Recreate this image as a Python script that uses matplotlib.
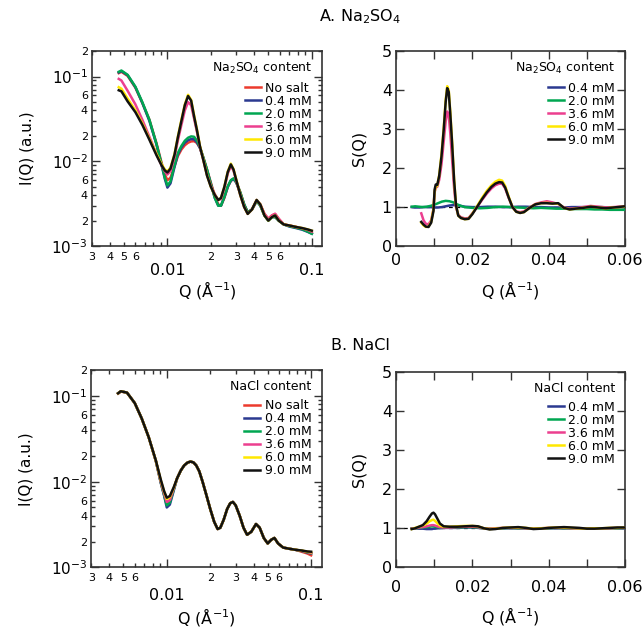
import matplotlib
matplotlib.use('Agg')
import matplotlib.pyplot as plt
import numpy as np
from matplotlib.ticker import FixedLocator, FuncFormatter, MultipleLocator

# ---- data ----
labels = ['No salt', '0.4 mM', '2.0 mM', '3.6 mM', '6.0 mM', '9.0 mM']
colors = ['#ec3a2d', '#2b3990', '#00a651', '#ec3f8f', '#ffe800', '#111111']

# I(Q) grid (both salts)
q_i = [0.0046, 0.0048, 0.0053, 0.0060, 0.0067, 0.0075, 0.0084, 0.0091, 0.0096, 0.0100,
       0.0105, 0.0112, 0.0118, 0.0125, 0.0132, 0.0139, 0.0146, 0.0153, 0.0160, 0.0168,
       0.0177, 0.0188, 0.0200, 0.0213, 0.0225, 0.0235, 0.0248, 0.0262, 0.0275, 0.0287,
       0.0300, 0.0320, 0.0340, 0.0360, 0.0385, 0.0415, 0.0440, 0.0470, 0.0500, 0.0530,
       0.0557, 0.0590, 0.0640, 0.0700, 0.0780, 0.0860, 0.0940, 0.1000]

# A. Na2SO4, I(Q)
iq_na2so4 = {
    'No salt': [0.110, 0.114, 0.102, 0.074, 0.049, 0.031, 0.0163, 0.0097, 0.0070, 0.0060,
                0.0064, 0.0088, 0.0115, 0.0138, 0.0155, 0.0166, 0.0172, 0.0173, 0.0165, 0.0145,
                0.0112, 0.0080, 0.0056, 0.0039, 0.0031, 0.0030, 0.0037, 0.0050, 0.0059, 0.0062,
                0.0057, 0.0043, 0.0031, 0.0025, 0.0027, 0.0034, 0.0031, 0.0024, 0.0021, 0.0023,
                0.0024, 0.0021, 0.0018, 0.00175, 0.00168, 0.0016, 0.0015, 0.00142],
    '0.4 mM': [0.112, 0.116, 0.104, 0.075, 0.049, 0.030, 0.0158, 0.0091, 0.0062, 0.0049,
               0.0055, 0.0086, 0.0120, 0.0146, 0.0166, 0.0178, 0.0183, 0.0182, 0.0168, 0.0143,
               0.0110, 0.0079, 0.0054, 0.0037, 0.0030, 0.0030, 0.0038, 0.0050, 0.0059, 0.0062,
               0.0056, 0.0042, 0.0031, 0.0025, 0.0027, 0.0034, 0.0030, 0.0023, 0.0020, 0.0022,
               0.0022, 0.0020, 0.0018, 0.0017, 0.00163, 0.00156, 0.00147, 0.00140],
    '2.0 mM': [0.114, 0.118, 0.105, 0.076, 0.050, 0.031, 0.0160, 0.0093, 0.0064, 0.0052,
               0.0058, 0.0090, 0.0125, 0.0152, 0.0175, 0.0190, 0.0197, 0.0195, 0.0176, 0.0148,
               0.0112, 0.0080, 0.0054, 0.0037, 0.0030, 0.0030, 0.0038, 0.0051, 0.0060, 0.0063,
               0.0057, 0.0043, 0.0031, 0.0025, 0.0027, 0.0034, 0.0030, 0.0023, 0.0020, 0.0022,
               0.0022, 0.0020, 0.0018, 0.00172, 0.00165, 0.00158, 0.00148, 0.00140],
    '3.6 mM': [0.094, 0.090, 0.068, 0.047, 0.031, 0.0195, 0.0122, 0.0090, 0.0076, 0.0070,
               0.0077, 0.0112, 0.0175, 0.027, 0.040, 0.050, 0.046, 0.032, 0.0225, 0.0148,
               0.0105, 0.0069, 0.0051, 0.0041, 0.0035, 0.0036, 0.0048, 0.0072, 0.0088, 0.0078,
               0.0059, 0.0040, 0.0029, 0.0024, 0.0027, 0.0035, 0.0031, 0.0024, 0.0021, 0.0023,
               0.0024, 0.0021, 0.0018, 0.00175, 0.00168, 0.00162, 0.00155, 0.00148],
    '6.0 mM': [0.075, 0.072, 0.055, 0.040, 0.028, 0.0185, 0.0122, 0.0093, 0.0080, 0.0076,
               0.0084, 0.0122, 0.0194, 0.031, 0.047, 0.061, 0.053, 0.035, 0.024, 0.0152,
               0.0106, 0.0069, 0.0050, 0.0040, 0.0035, 0.0037, 0.0050, 0.0076, 0.0094, 0.0081,
               0.0061, 0.0040, 0.0029, 0.0024, 0.0027, 0.0035, 0.0031, 0.0023, 0.0020, 0.0022,
               0.0023, 0.0020, 0.0018, 0.00175, 0.00168, 0.00163, 0.00157, 0.00152],
    '9.0 mM': [0.069, 0.067, 0.051, 0.038, 0.027, 0.018, 0.0118, 0.0090, 0.0078, 0.0074,
               0.0082, 0.0120, 0.0190, 0.030, 0.046, 0.059, 0.052, 0.034, 0.0235, 0.0150,
               0.0105, 0.0068, 0.0050, 0.0040, 0.0035, 0.0037, 0.0050, 0.0075, 0.0092, 0.0080,
               0.0060, 0.0040, 0.0029, 0.0024, 0.0027, 0.0035, 0.0031, 0.0023, 0.0020, 0.0022,
               0.0023, 0.0020, 0.0018, 0.00175, 0.00168, 0.00163, 0.00157, 0.00152],
}

# B. NaCl, I(Q)
iq_nacl = {
    'No salt': [0.107, 0.113, 0.110, 0.083, 0.055, 0.033, 0.0175, 0.0098, 0.0071, 0.0057,
                0.0060, 0.0083, 0.0110, 0.0135, 0.0155, 0.0167, 0.0172, 0.0168, 0.0155, 0.0132,
                0.0100, 0.0070, 0.0048, 0.0034, 0.0028, 0.0029, 0.0036, 0.0048, 0.0056, 0.0058,
                0.0053, 0.0040, 0.0029, 0.0024, 0.0026, 0.0032, 0.0029, 0.0022, 0.0019, 0.0021,
                0.0022, 0.0019, 0.0017, 0.00165, 0.0016, 0.00152, 0.00145, 0.00138],
    '0.4 mM': [0.108, 0.114, 0.110, 0.083, 0.055, 0.033, 0.0175, 0.0096, 0.0068, 0.0050,
               0.0054, 0.0080, 0.0110, 0.0135, 0.0155, 0.0167, 0.0172, 0.0168, 0.0155, 0.0132,
               0.0100, 0.0070, 0.0048, 0.0034, 0.0028, 0.0029, 0.0036, 0.0048, 0.0056, 0.0058,
               0.0053, 0.0040, 0.0029, 0.0024, 0.0026, 0.0032, 0.0029, 0.0022, 0.0019, 0.0021,
               0.0022, 0.0019, 0.0017, 0.00165, 0.0016, 0.00155, 0.00149, 0.00145],
    '2.0 mM': [0.108, 0.114, 0.110, 0.083, 0.055, 0.033, 0.0175, 0.0097, 0.0069, 0.0053,
               0.0057, 0.0082, 0.0110, 0.0135, 0.0155, 0.0167, 0.0172, 0.0168, 0.0155, 0.0132,
               0.0100, 0.0070, 0.0048, 0.0034, 0.0028, 0.0029, 0.0036, 0.0048, 0.0056, 0.0058,
               0.0053, 0.0040, 0.0029, 0.0024, 0.0026, 0.0032, 0.0029, 0.0022, 0.0019, 0.0021,
               0.0022, 0.0019, 0.0017, 0.00165, 0.0016, 0.00156, 0.00150, 0.00146],
    '3.6 mM': [0.108, 0.114, 0.110, 0.083, 0.055, 0.033, 0.0175, 0.0099, 0.0072, 0.0058,
               0.0061, 0.0084, 0.0110, 0.0135, 0.0155, 0.0167, 0.0172, 0.0168, 0.0155, 0.0132,
               0.0100, 0.0070, 0.0048, 0.0034, 0.0028, 0.0029, 0.0036, 0.0048, 0.0056, 0.0058,
               0.0053, 0.0040, 0.0029, 0.0024, 0.0026, 0.0032, 0.0029, 0.0022, 0.0019, 0.0021,
               0.0022, 0.0019, 0.0017, 0.00165, 0.0016, 0.00156, 0.00151, 0.00147],
    '6.0 mM': [0.108, 0.114, 0.110, 0.083, 0.055, 0.033, 0.0176, 0.0103, 0.0076, 0.0063,
               0.0066, 0.0086, 0.0110, 0.0135, 0.0155, 0.0167, 0.0172, 0.0168, 0.0155, 0.0132,
               0.0100, 0.0070, 0.0048, 0.0034, 0.0028, 0.0029, 0.0036, 0.0048, 0.0056, 0.0058,
               0.0053, 0.0040, 0.0029, 0.0024, 0.0026, 0.0032, 0.0029, 0.0022, 0.0019, 0.0021,
               0.0022, 0.0019, 0.0017, 0.00165, 0.0016, 0.00157, 0.00152, 0.00150],
    '9.0 mM': [0.108, 0.114, 0.110, 0.083, 0.055, 0.033, 0.0177, 0.0105, 0.0077, 0.0065,
               0.0068, 0.0087, 0.0110, 0.0135, 0.0155, 0.0167, 0.0172, 0.0168, 0.0155, 0.0132,
               0.0100, 0.0070, 0.0048, 0.0034, 0.0028, 0.0029, 0.0036, 0.0048, 0.0056, 0.0058,
               0.0053, 0.0040, 0.0029, 0.0024, 0.0026, 0.0032, 0.0029, 0.0022, 0.0019, 0.0021,
               0.0022, 0.0019, 0.0017, 0.00165, 0.0016, 0.00157, 0.00153, 0.00152],
}

# A. Na2SO4, S(Q): low-salt curves and high-salt curves on their own Q grids
q_s_lo = [0.0041, 0.005, 0.006, 0.007, 0.008, 0.009, 0.010, 0.011, 0.012, 0.013, 0.014, 0.015,
          0.016, 0.017, 0.018, 0.020, 0.022, 0.024, 0.026, 0.028, 0.030, 0.032, 0.034, 0.036,
          0.038, 0.040, 0.042, 0.044, 0.046, 0.048, 0.050, 0.052, 0.054, 0.056, 0.058, 0.060]
q_s_hi = [0.0066, 0.0072, 0.0078, 0.0085, 0.0092, 0.0098, 0.0101, 0.0104, 0.0108, 0.0113,
          0.0119, 0.0125, 0.0130, 0.0134, 0.0138, 0.0142, 0.0147, 0.0152, 0.0157, 0.0163,
          0.0170, 0.0180, 0.0190, 0.0200, 0.0212, 0.0225, 0.0238, 0.0250, 0.0260, 0.0270,
          0.0278, 0.0286, 0.0295, 0.0305, 0.0315, 0.0325, 0.0335, 0.0350, 0.0365, 0.0380,
          0.0395, 0.0410, 0.0425, 0.0440, 0.0455, 0.0470, 0.0490, 0.0510, 0.0530, 0.0550,
          0.0570, 0.0600]
sq_na2so4 = {
    '0.4 mM': [1.0, 0.99, 0.99, 1.0, 1.0, 1.0, 0.99, 0.99, 1.0, 1.02, 1.04, 1.05, 1.05, 1.03,
               1.01, 1.0, 1.0, 1.01, 1.01, 1.0, 1.0, 1.01, 1.01, 1.0, 1.0, 0.99, 0.99, 0.99,
               1.0, 1.0, 1.0, 1.0, 1.0, 0.99, 0.99, 1.0],
    '2.0 mM': [1.01, 1.02, 1.01, 1.0, 1.01, 1.03, 1.06, 1.10, 1.14, 1.16, 1.15, 1.12, 1.07,
               1.03, 1.0, 0.98, 0.97, 0.98, 1.0, 1.01, 1.0, 0.99, 0.98, 0.97, 0.98, 0.97,
               0.96, 0.96, 0.95, 0.95, 0.95, 0.94, 0.94, 0.93, 0.93, 0.93],
    '3.6 mM': [0.84, 0.66, 0.57, 0.56, 0.66, 0.95, 1.38, 1.50, 1.52, 1.70, 2.10, 2.70, 3.20,
               3.45, 3.35, 2.90, 2.20, 1.50, 1.00, 0.80, 0.74, 0.71, 0.72, 0.84, 1.00, 1.18,
               1.35, 1.48, 1.56, 1.60, 1.60, 1.48, 1.24, 1.00, 0.89, 0.87, 0.89, 0.99, 1.08,
               1.12, 1.15, 1.12, 1.08, 0.99, 0.96, 0.97, 1.0, 1.03, 1.01, 0.99, 1.0, 1.02],
    '6.0 mM': [0.60, 0.53, 0.49, 0.50, 0.62, 0.95, 1.40, 1.52, 1.55, 1.82, 2.35, 3.05, 3.75,
               4.10, 4.00, 3.45, 2.65, 1.72, 1.05, 0.78, 0.72, 0.69, 0.70, 0.83, 1.02, 1.23,
               1.42, 1.56, 1.65, 1.70, 1.68, 1.54, 1.27, 1.00, 0.88, 0.85, 0.87, 0.98, 1.07,
               1.10, 1.11, 1.09, 1.09, 0.98, 0.94, 0.96, 0.98, 1.01, 0.99, 0.97, 0.99, 1.01],
    '9.0 mM': [0.62, 0.55, 0.50, 0.49, 0.60, 0.90, 1.45, 1.58, 1.57, 1.80, 2.30, 3.00, 3.70,
               4.05, 3.95, 3.40, 2.60, 1.70, 1.05, 0.78, 0.72, 0.69, 0.70, 0.82, 1.00, 1.20,
               1.38, 1.52, 1.60, 1.64, 1.63, 1.50, 1.25, 1.00, 0.88, 0.85, 0.87, 0.98, 1.07,
               1.10, 1.10, 1.09, 1.10, 0.98, 0.94, 0.96, 0.98, 1.01, 0.99, 0.97, 0.99, 1.02],
}

# B. NaCl, S(Q)
q_s_b = [0.0041, 0.0050, 0.0060, 0.0070, 0.0080, 0.0088, 0.0094, 0.0098, 0.0102, 0.0108,
         0.0115, 0.0125, 0.0140, 0.0160, 0.0180, 0.0200, 0.0215, 0.0230, 0.0245, 0.0260,
         0.0280, 0.0300, 0.0320, 0.0340, 0.0360, 0.0380, 0.0400, 0.0420, 0.0440, 0.0460,
         0.0480, 0.0500, 0.0520, 0.0540, 0.0560, 0.0580, 0.0600]
sq_nacl = {
    '0.4 mM': [1.0, 1.0, 0.99, 0.99, 0.98, 0.98, 0.98, 0.99, 0.99, 1.0, 1.0, 1.01, 1.01, 1.01,
               1.02, 1.02, 1.01, 1.0, 0.99, 1.0, 1.0, 1.0, 1.0, 1.0, 0.99, 1.0, 1.0, 1.0, 1.0,
               1.0, 1.0, 0.99, 1.0, 1.0, 1.0, 1.0, 1.0],
    '2.0 mM': [0.99, 1.0, 1.01, 1.02, 1.03, 1.04, 1.05, 1.05, 1.04, 1.03, 1.02, 1.02, 1.02,
               1.02, 1.03, 1.03, 1.02, 1.0, 0.99, 1.0, 1.0, 1.01, 1.0, 1.0, 0.99, 1.0, 1.0,
               1.01, 1.0, 1.0, 1.0, 0.99, 1.0, 1.0, 1.0, 1.0, 1.01],
    '3.6 mM': [0.99, 1.0, 1.02, 1.03, 1.05, 1.07, 1.08, 1.08, 1.07, 1.05, 1.03, 1.02, 1.02,
               1.03, 1.04, 1.04, 1.03, 1.0, 0.99, 1.0, 1.01, 1.01, 1.01, 1.0, 0.99, 1.0, 1.01,
               1.01, 1.01, 1.0, 1.0, 0.99, 1.0, 1.0, 1.0, 1.01, 1.01],
    '6.0 mM': [0.98, 1.01, 1.04, 1.07, 1.12, 1.18, 1.21, 1.22, 1.19, 1.13, 1.07, 1.04, 1.04,
               1.05, 1.06, 1.06, 1.05, 1.0, 0.98, 0.99, 1.01, 1.02, 1.02, 1.01, 0.99, 1.0,
               1.01, 1.02, 1.02, 1.01, 1.0, 0.99, 1.0, 1.0, 1.01, 1.01, 1.02],
    '9.0 mM': [0.98, 1.0, 1.04, 1.08, 1.18, 1.30, 1.38, 1.40, 1.36, 1.25, 1.12, 1.05, 1.04,
               1.04, 1.05, 1.06, 1.05, 1.0, 0.97, 0.98, 1.01, 1.02, 1.03, 1.01, 0.98, 0.99,
               1.01, 1.02, 1.03, 1.02, 1.01, 0.99, 0.99, 1.0, 1.01, 1.02, 1.02],
}

AX_COLOR = '#333333'
LW = 1.8


def minor_label(show):
    def fmt(v, pos):
        e = np.floor(np.log10(v) + 1e-9)
        d = int(round(v / 10 ** e))
        return str(d) if d in show else ''
    return fmt


def style_spines(ax):
    for s in ax.spines.values():
        s.set_color(AX_COLOR)
        s.set_linewidth(1.2)


def setup_log(ax, xpad):
    ax.set_xscale('log')
    ax.set_yscale('log')
    ax.set_xlim(0.003, 0.118)
    ax.set_ylim(1e-3, 0.2)
    ax.xaxis.set_major_locator(FixedLocator([0.01, 0.1]))
    ax.xaxis.set_major_formatter(FuncFormatter(lambda v, p: '%g' % v))
    ax.xaxis.set_minor_locator(FixedLocator([d * 10.0 ** e for e in (-3, -2) for d in range(2, 10)]))
    ax.xaxis.set_minor_formatter(FuncFormatter(minor_label((2, 3, 4, 5, 6))))
    ax.yaxis.set_minor_locator(FixedLocator([d * 10.0 ** e for e in (-3, -2, -1) for d in range(2, 10)]))
    ax.yaxis.set_minor_formatter(FuncFormatter(minor_label((2, 4, 6))))
    ax.tick_params(which='both', direction='in', top=True, right=True, color=AX_COLOR, width=1)
    ax.tick_params(which='major', length=6)
    ax.tick_params(which='minor', length=3)
    ax.tick_params(axis='x', which='major', labelsize=11.5, pad=xpad)
    ax.tick_params(axis='x', which='minor', labelsize=8, pad=4)
    ax.tick_params(axis='y', which='major', labelsize=11, pad=3)
    ax.tick_params(axis='y', which='minor', labelsize=8, pad=3)
    ax.set_ylabel('I(Q) (a.u.)', fontsize=11)
    ax.yaxis.set_label_coords(-0.25, 0.5)
    style_spines(ax)


def setup_s(ax, xpad):
    ax.set_xlim(0, 0.06)
    ax.set_ylim(0, 5)
    ax.xaxis.set_major_locator(MultipleLocator(0.02))
    ax.xaxis.set_minor_locator(MultipleLocator(0.01))
    ax.xaxis.set_major_formatter(FuncFormatter(lambda v, p: '%g' % round(v, 3)))
    ax.yaxis.set_major_locator(MultipleLocator(1))
    ax.tick_params(which='both', direction='in', top=True, right=True, color=AX_COLOR,
                   width=1, length=6, labelsize=11.5)
    ax.tick_params(axis='x', pad=xpad)
    ax.tick_params(axis='y', pad=3)
    ax.axhline(1.0, color='black', lw=0.9, ls=(0, (3, 3)), zorder=1)
    ax.set_ylabel('S(Q)', fontsize=11.5)
    ax.yaxis.set_label_coords(-0.13, 0.5)
    style_spines(ax)


def add_legend(ax, title):
    leg = ax.legend(title=title, loc='upper right', frameon=False, fontsize=9,
                    title_fontsize=9, handlelength=1.3, handletextpad=0.35,
                    labelspacing=0.0, borderaxespad=0.5, borderpad=0.3,
                    alignment='right')
    # a little extra room between the title and the entries
    leg._legend_box.sep = 4
    return leg


def main():
    fig = plt.figure(figsize=(6.43, 6.31), dpi=100)
    ax_a1 = fig.add_axes([0.143, 0.610, 0.358, 0.309])
    ax_a2 = fig.add_axes([0.616, 0.610, 0.356, 0.309])
    ax_b1 = fig.add_axes([0.142, 0.101, 0.358, 0.312])
    ax_b2 = fig.add_axes([0.616, 0.101, 0.356, 0.309])

    for lab, col in zip(labels, colors):
        ax_a1.plot(q_i, iq_na2so4[lab], color=col, lw=LW, label=lab, zorder=3)
        ax_b1.plot(q_i, iq_nacl[lab], color=col, lw=LW, label=lab, zorder=3)
    for lab, col in zip(labels[1:], colors[1:]):
        qa = q_s_lo if lab in ('0.4 mM', '2.0 mM') else q_s_hi
        ax_a2.plot(qa, sq_na2so4[lab], color=col, lw=LW, label=lab, zorder=3)
        ax_b2.plot(q_s_b, sq_nacl[lab], color=col, lw=LW, label=lab, zorder=3)

    setup_log(ax_a1, 12)
    setup_log(ax_b1, 15)
    setup_s(ax_a2, 5)
    setup_s(ax_b2, 9)

    xlab = 'Q (Å$^{-1}$)'
    for ax in (ax_a1, ax_a2):
        ax.set_xlabel(xlab, fontsize=11.5)
        ax.xaxis.set_label_coords(0.5, -0.17)
    for ax in (ax_b1, ax_b2):
        ax.set_xlabel(xlab, fontsize=11.5)
        ax.xaxis.set_label_coords(0.5, -0.195)

    add_legend(ax_a1, 'Na$_2$SO$_4$ content')
    add_legend(ax_a2, 'Na$_2$SO$_4$ content')
    add_legend(ax_b1, 'NaCl content')
    add_legend(ax_b2, 'NaCl content')

    fig.text(0.56, 0.973, 'A. Na$_2$SO$_4$', ha='center', va='center', fontsize=11.5)
    fig.text(0.56, 0.453, 'B. NaCl', ha='center', va='center', fontsize=11.5)

    fig.savefig('out.png', dpi=100)


if __name__ == '__main__':
    main()
